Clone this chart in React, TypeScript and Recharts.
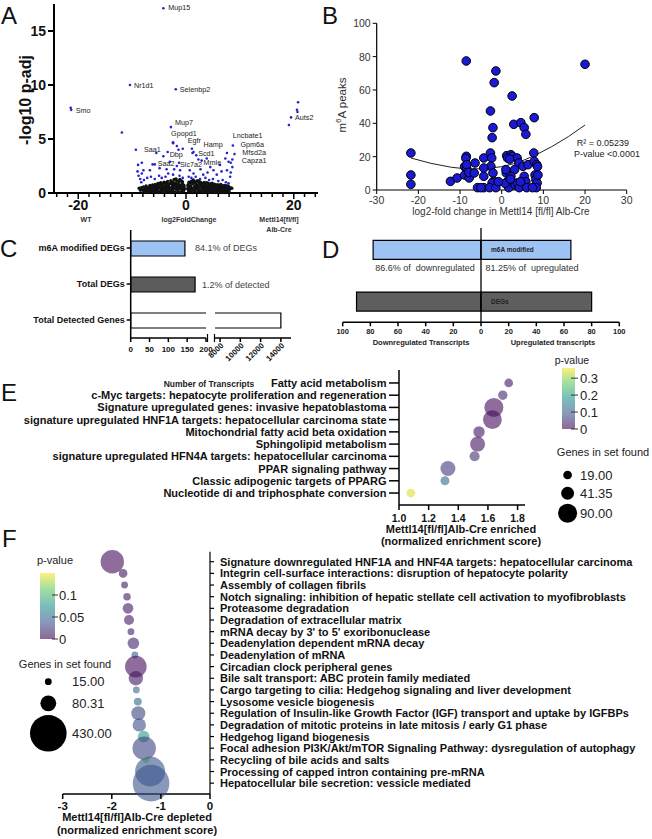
import React from 'react';
import {
  ScatterChart,
  Scatter,
  XAxis,
  YAxis,
  ZAxis,
  BarChart,
  Bar,
  Cell,
  LabelList,
  ReferenceLine,
} from 'recharts';

const FONT = '"Liberation Sans", Arial, Helvetica, sans-serif';

// ---------- A: volcano ----------
const volcanoNS: number[][] = [
  [-8.7, 0.44], [8.5, 0.44],
  [-8.1, 0.3], [-7.9, 0.55], [-7.7, 0.15], [-7.6, 0.4], [-7.4, 0.65], [-7.3, 0.05], [-7.2, 0.25], [-7.0, 0.5],
  [-6.9, 0.1], [-6.8, 0.42], [-6.7, 0.7], [-6.6, 0.3], [-6.4, 0.18], [-6.3, 0.55], [-6.2, 0.75], [-6.1, 0.05],
  [-6.0, 0.38], [-5.9, 0.6], [-5.8, 0.22], [-5.7, 0.8], [-5.6, 0.45], [-5.5, 0.1], [-5.4, 0.62], [-5.3, 0.32],
  [-5.2, 0.88], [-5.1, 0.05], [-5.0, 0.5], [-4.9, 0.72], [-4.8, 0.2], [-4.7, 0.95], [-4.6, 0.4], [-4.5, 0.6],
  [-4.4, 0.12], [-4.3, 0.82], [-4.2, 0.3], [-4.1, 1.0], [-4.0, 0.5], [-3.9, 0.05], [-3.8, 0.7], [-3.7, 0.25],
  [-3.6, 0.92], [-3.5, 0.45], [-3.4, 1.08], [-3.3, 0.15], [-3.2, 0.6], [-3.1, 0.35], [-3.0, 0.85], [-2.9, 0.05],
  [-2.8, 1.15], [-2.7, 0.5], [-2.6, 0.25], [-2.5, 0.75], [-2.4, 1.0], [-2.3, 0.4], [-2.2, 1.25], [-2.1, 0.6],
  [-2.0, 0.1], [-1.9, 0.9], [-1.8, 0.35], [-1.7, 1.12], [-1.6, 0.55], [-1.5, 0.2], [-1.4, 0.8], [-1.3, 1.02],
  [-1.2, 0.42], [-1.1, 0.05], [-1.0, 0.7], [-0.9, 1.15], [-0.8, 0.3], [-0.7, 0.88], [-0.6, 0.52], [-0.5, 0.15],
  [-0.4, 0.72], [-0.3, 0.38],
  [0.3, 0.4], [0.4, 0.78], [0.5, 0.12], [0.6, 0.55], [0.7, 0.95], [0.8, 0.28], [0.9, 0.68], [1.0, 1.1],
  [1.1, 0.45], [1.2, 0.05], [1.3, 0.85], [1.4, 0.32], [1.5, 1.05], [1.6, 0.6], [1.7, 0.18], [1.8, 0.9],
  [1.9, 0.42], [2.0, 1.12], [2.1, 0.7], [2.2, 0.08], [2.3, 0.5], [2.4, 0.95], [2.5, 0.28], [2.6, 0.78],
  [2.7, 1.0], [2.8, 0.15], [2.9, 0.6], [3.0, 0.38], [3.1, 0.88], [3.2, 0.05], [3.3, 0.66], [3.4, 0.98],
  [3.5, 0.25], [3.6, 0.5], [3.7, 0.82], [3.8, 0.12], [3.9, 0.6], [4.0, 0.35], [4.1, 0.9], [4.2, 0.05],
  [4.3, 0.7], [4.4, 0.45], [4.5, 0.2], [4.6, 0.85], [4.7, 0.55], [4.8, 0.1], [4.9, 0.75], [5.0, 0.35],
  [5.1, 0.6], [5.2, 0.2], [5.3, 0.82], [5.4, 0.45], [5.5, 0.05], [5.6, 0.68], [5.7, 0.3], [5.8, 0.78],
  [5.9, 0.15], [6.0, 0.5], [6.1, 0.72], [6.2, 0.25], [6.3, 0.05], [6.4, 0.6], [6.5, 0.38], [6.6, 0.7],
  [6.7, 0.12], [6.8, 0.48], [6.9, 0.65], [7.0, 0.25], [7.1, 0.05], [7.2, 0.55], [7.3, 0.35], [7.4, 0.68],
  [7.5, 0.15], [7.6, 0.45], [7.7, 0.62], [7.8, 0.28], [7.9, 0.5], [8.0, 0.1], [8.1, 0.35],
  [-3.55, 0.15], [-2.45, 0.12], [-1.55, 0.4], [-0.45, 0.25], [0.45, 0.3], [1.55, 0.3], [2.45, 0.18],
  [3.55, 0.4], [-4.45, 0.3], [4.45, 0.28], [-5.45, 0.35], [5.45, 0.25], [-6.5, 0.5], [6.5, 0.2],
  [-7.5, 0.3], [7.5, 0.4],
  [-7.85, 0.2], [-7.45, 0.45], [-7.05, 0.3], [-6.65, 0.55], [-6.25, 0.35], [-5.85, 0.7], [-5.65, 0.1],
  [-5.25, 0.5], [-4.85, 0.85], [-4.65, 0.2], [-4.25, 0.55], [-3.85, 0.95], [-3.65, 0.6], [-3.25, 0.8],
  [-3.05, 0.15], [-2.75, 0.9], [-2.55, 0.5], [-2.15, 0.85], [-1.85, 1.3], [-1.65, 0.75], [-1.35, 0.6],
  [-1.15, 1.25], [-0.95, 0.45], [-0.75, 0.15], [-0.65, 1.05], [-0.35, 0.55], [0.35, 0.65], [0.55, 1.0],
  [0.75, 0.45], [0.95, 0.2], [1.15, 0.9], [1.35, 1.2], [1.65, 0.45], [1.85, 0.7], [2.15, 0.35], [2.35, 1.15],
  [2.65, 0.55], [2.85, 0.85], [3.15, 0.5], [3.35, 0.25], [3.65, 0.7], [3.85, 0.95], [4.15, 0.15], [4.35, 0.5],
  [4.65, 0.35], [4.85, 0.9], [5.15, 0.45], [5.35, 0.1], [5.65, 0.55], [5.85, 0.3], [6.15, 0.4], [6.45, 0.8],
  [6.85, 0.3], [7.15, 0.7], [7.45, 0.2], [7.85, 0.65], [8.2, 0.5], [-8.3, 0.5], [-8.45, 0.25],
];

const volcanoDEG: number[][] = [
  [20.8, 8.4], [20.6, 7.7], [20.7, 7.5], [19.1, 6.3], [-21.3, 7.7], [-11.9, 5.6],
  [-8.2, 2.8], [-6.2, 2.65], [-5.5, 3.7], [-4.2, 3.4], [-2.4, 4.6], [-1.7, 4.35], [-1.4, 4.0],
  [-3.0, 2.9], [-1.7, 2.5], [-1.1, 2.1], [-6.7, 2.1], [-7.9, 2.1], [-8.2, 1.8], [-3.3, 1.8], [-2.4, 1.7],
  [1.1, 4.1], [1.2, 3.7], [2.3, 3.1], [3.85, 3.2], [4.5, 2.4], [5.1, 2.1], [6.3, 2.6], [7.3, 3.2],
  [7.6, 3.7], [7.9, 2.9], [7.6, 2.1], [8.2, 1.5], [0.7, 2.1], [1.4, 1.8], [3.2, 1.7], [5.7, 1.7],
  [-8.9, 2.6], [-9.0, 2.0], [-8.8, 1.6], [-8.5, 1.3], [-8.3, 1.0], [-7.8, 1.2], [-7.2, 1.4], [-6.5, 1.5],
  [-5.8, 1.3], [-5.0, 1.6], [-4.5, 1.4], [-3.8, 1.5], [-1.2, 1.6], [-0.6, 1.4], [0.5, 1.5], [1.0, 1.4],
  [1.8, 1.5], [2.6, 1.3], [3.6, 1.4], [4.3, 1.2], [5.0, 1.3], [6.0, 1.1], [6.8, 1.2], [7.4, 1.0],
  [7.9, 0.9], [8.3, 1.9], [8.6, 2.4], [-4.9, 2.3], [-3.6, 2.2], [-2.2, 2.2], [2.7, 2.2], [4.0, 1.9], [6.6, 2.0],
];

const volcanoGenes = ['Mup15', 'Nr1d1', 'Selenbp2', 'Smo', 'Mup7', 'Gpopd1', 'Egfr', 'Hamp', 'Saa1', 'Lncbate1',
  'Gpm6a', 'Mfsd2a', 'Capza1', 'Dbp', 'Scd1', 'Saa2', 'Slc7a2', 'Mmle', 'Auts2'];
const volcanoGeneFC = [-4.2, -10.4, -1.9, -21.4, -2.8, -2.4, -0.6, 1.4, -9.3, 8.7, 9.0, 8.6, 8.3, -3.4, 1.9, -5.8, -1.3, 2.9, 19.5];
const volcanoGeneP = [17.1, 10.0, 9.6, 7.9, 6.1, 4.7, 4.1, 3.8, 4.0, 4.4, 3.6, 3.1, 2.8, 3.8, 3.5, 2.65, 2.8, 3.0, 7.0];
// where each gene name sits relative to its point (px)
const geneNudge: Record<string, [number, number]> = {
  Mup15: [5, -1], Nr1d1: [4, 0], Selenbp2: [4, 0], Smo: [5, 3], Mup7: [4, -5], Gpopd1: [-2, -9],
  Egfr: [5, -8], Hamp: [10, -7], Saa1: [8, 0], Lncbate1: [0, -9.5], Gpm6a: [6, -9.9], Mfsd2a: [10, -7.1],
  Capza1: [11, -2.2], Dbp: [2, 3], Scd1: [2, -2], Saa2: [3, -1], Slc7a2: [1, 2], Mmle: [2, 2], Auts2: [4, 0],
};
const volcanoXTicks = [-24, -22, -20, -18, -16, -14, -12, -10, -8, -6, -4, -2, 0, 2, 4, 6, 8, 10, 12, 14, 16, 18, 20, 22, 24];
const volcanoXLabels = [-20, 0, 20];
const volcanoYTicks = [0, 5, 10, 15];

// ---------- B: m6A peaks vs fold change ----------
const peaksPts: number[][] = [
  [-21.8, 22.2], [-21.8, 9], [-21.8, 3.4], [-8.5, 77.4], [-1.4, 71.4], [-1.8, 64.4], [2.5, 56.4], [20, 75.4],
  [-2.7, 47.4], [-2.1, 37.4], [-2.3, 31.4], [2.9, 39.4], [4.6, 40.4], [5.4, 37.4], [5.8, 33.4], [7.8, 43.4],
  [-8.5, 20.2], [-8.6, 19], [-6.4, 16.2], [-4.3, 19.2], [-2.7, 22.2], [-2.4, 19.2], [-2.6, 14.2], [1.2, 20.6],
  [2.2, 21.2], [2.6, 20.2], [1.4, 19.2], [3.7, 19.2], [4.1, 16.2], [3.1, 12.2], [5.1, 14.2], [6.3, 15.2],
  [7.7, 22.2], [7.8, 17.2], [8.4, 15.2], [8.6, 14], [-12.3, 5.2], [-10.7, 7.2], [-8.9, 14], [-8.4, 13],
  [-8.9, 9], [-7.8, 7.2], [-8.4, 15.2], [-7.9, 10.5], [-6.6, 10.2], [-4.3, 8.2], [-4.3, 13.2], [-2.1, 10.2],
  [-2, 5.2], [-1.4, 4.8], [-2.3, 4.2], [-5.8, 1.4], [-4.3, 1.4], [-2.9, 1.4], [-1.4, 1.4], [1.1, 10.2],
  [1, 12.2], [2.2, 8.2], [1.3, 4.8], [2.6, 4.8], [1.7, 1.4], [3.2, 3], [3.8, 4.2], [4.2, 1.4], [5.4, 8.2],
  [5.8, 5], [6, 1.4], [8, 9], [8.2, 6.2], [8.5, 4.2], [8.7, 9], [8.3, 1.4], [7.4, 1.4], [0.8, 4], [2.1, 6.5],
  [-0.8, 5], [4.5, 5], [1.9, 18.5], [-5, 1.4],
];
const peaksFit: number[][] = [
  [-21.8, 19.2], [-17, 16], [-12, 13.6], [-8, 12.6], [-4, 12.8], [0, 14], [4, 16.5], [8, 20.8], [12, 26], [16, 32], [20, 39],
];
const peaksXTicks = [-30, -20, -10, 0, 10, 20, 30];
const peaksYTicks = [0, 20, 40, 60, 80, 100];

// ---------- C: transcript counts (broken axis) ----------
const countCats = ['m6A modified DEGs', 'Total DEGs', 'Total Detected Genes'];
const countVals = [144, 171, 14000];
const countNotes = ['84.1% of DEGs', '1.2% of detected'];
const countLowTicks = [0, 50, 100, 150, 200];
const countHighTicks = [8000, 10000, 12000, 14000];
const countFills = ['#9dc3f5', '#5c5c5c', '#ffffff'];

// ---------- D: up / down regulated ----------
const dirCats = ['m6A modified', 'DEGs'];
const dirDown = [78, 90];
const dirUp = [65, 80];
const dirNotes = ['86.6% of  downregulated', '81.25% of  upregulated'];
const dirTicks = [-100, -80, -60, -40, -20, 0, 20, 40, 60, 80, 100];
const dirFills = ['#9dc3f5', '#5e5e5e'];

// ---------- E: enriched ----------
const enrTerms = [
  'Fatty acid metabolism',
  'c-Myc targets: hepatocyte proliferation and regeneration',
  'Signature upregulated genes: invasive hepatoblastoma',
  'signature upregulated HNF1A targets: hepatocellular carcinoma state',
  'Mitochondrial fatty acid beta oxidation',
  'Sphingolipid metabolism',
  'signature upregulated HFN4A targets: hepatocellular carcinoma',
  'PPAR signaling pathway',
  'Classic adipogenic targets of PPARG',
  'Nucleotide di and triphosphate conversion',
];
const enrNES = [1.74, 1.7, 1.64, 1.63, 1.54, 1.53, 1.51, 1.33, 1.31, 1.08];
const enrGenes = [19, 22, 90, 88, 32, 56, 25, 56, 20, 19];
const enrP = [0.02, 0.04, 0.01, 0.01, 0.02, 0.02, 0.05, 0.06, 0.12, 0.34];
const enrXTicks = [1.0, 1.2, 1.4, 1.6, 1.8];
const enrPTicks = [0.3, 0.2, 0.1, 0];
const enrSizeLegend = [19, 41.35, 90];

// ---------- F: depleted ----------
const depTerms = [
  'Signature downregulated HNF1A and HNF4A targets: hepatocellular carcinoma',
  'Integrin cell-surface interactions: disruption of hepatocyte polarity',
  'Assembly of collagen fibrils',
  'Notch signaling: inhibition of hepatic stellate cell activation to myofibroblasts',
  'Proteasome degradation',
  'Degradation of extracellular matrix',
  "mRNA decay by 3' to 5' exoribonuclease",
  'Deadenylation dependent mRNA decay',
  'Deadenylation of mRNA',
  'Circadian clock peripheral genes',
  'Bile salt transport: ABC protein family mediated',
  'Cargo targeting to cilia: Hedgehog signaling and liver development',
  'Lysosome vesicle biogenesis',
  'Regulation of Insulin-like Growth Factor (IGF) transport and uptake by IGFBPs',
  'Degradation of mitotic proteins in late mitosis / early G1 phase',
  'Hedgehog ligand biogenesis',
  'Focal adhesion PI3K/Akt/mTOR Signaling Pathway: dysregulation of autophagy',
  'Recycling of bile acids and salts',
  'Processing of capped intron containing pre-mRNA',
  'Hepatocellular bile secretion: vessicle mediated',
];
const depNES = [-1.99, -1.77, -1.74, -1.69, -1.67, -1.65, -1.61, -1.56, -1.53, -1.51, -1.51, -1.5, -1.47, -1.46, -1.44, -1.35, -1.34, -1.31, -1.22, -1.2];
const depGenes = [176, 24, 15, 18, 36, 32, 15, 43, 15, 150, 66, 15, 20, 63, 58, 43, 176, 15, 289, 430];
const depP = [0.005, 0.008, 0.01, 0.01, 0.01, 0.01, 0.012, 0.015, 0.045, 0.005, 0.01, 0.05, 0.05, 0.03, 0.035, 0.08, 0.03, 0.12, 0.04, 0.038];
const depXTicks = [-3, -2, -1, 0];
const depPTicks = [0.1, 0.05, 0];
const depSizeLegend = [15, 80.31, 430];

// ---------- helpers ----------
const viridisStops = ['#440154', '#3b528b', '#21918c', '#5ec962', '#fde725'];
const BUBBLE_OPACITY = 0.6;
const E_PMAX = 0.36;
const F_PMAX = 0.15;
const E_RMAX = 9.5;
const F_RMAX = 18.3;

function hexRgb(h: string) {
  return [parseInt(h.slice(1, 3), 16), parseInt(h.slice(3, 5), 16), parseInt(h.slice(5, 7), 16)];
}
function viridis(t: number) {
  const c = Math.min(1, Math.max(0, t)) * (viridisStops.length - 1);
  const i = Math.min(viridisStops.length - 2, Math.floor(c));
  const f = c - i;
  const a = hexRgb(viridisStops[i]);
  const b = hexRgb(viridisStops[i + 1]);
  return `rgb(${a.map((v, k) => Math.round(v + (b[k] - v) * f)).join(',')})`;
}

const volcanoData = volcanoNS.map(([x, y]) => ({ x, y }));
const volcanoDegData = volcanoDEG.map(([x, y]) => ({ x, y }));
const volcanoLabelData = volcanoGenes.map((gene, i) => ({ gene, x: volcanoGeneFC[i], y: volcanoGeneP[i] }));
const peaksData = peaksPts.map(([x, y]) => ({ x, y }));
const fitData = peaksFit.map(([x, y]) => ({ x, y }));
const countData = countCats.map((name, i) => ({ name, count: countVals[i] }));
const dirData = dirCats.map((name, i) => ({ name, down: -dirDown[i], up: dirUp[i] }));
const enrData = enrTerms.map((term, i) => ({ rank: i, nes: enrNES[i], genes: enrGenes[i], p: enrP[i] }));
const depData = depTerms.map((term, i) => ({ rank: i, nes: depNES[i], genes: depGenes[i], p: depP[i] }));

const txt = (size: number, bold = false, fill = '#111') => ({
  fontSize: size,
  fontWeight: bold ? 700 : 400,
  fill,
  fontFamily: FONT,
});

// ---------- panels ----------
function VolcanoPanel() {
  const xTick = ({ x = 0, y = 0, payload }: any) => {
    const major = volcanoXLabels.includes(payload.value);
    return (
      <g>
        <line x1={x} x2={x} y1={y} y2={y + (major ? 6 : 4)} stroke="#000" strokeWidth={1.5} />
        {major && (
          <text x={x} y={y + 17} textAnchor="middle" {...txt(14, true)}>{payload.value}</text>
        )}
      </g>
    );
  };
  const yTick = ({ x = 0, y = 0, payload }: any) => (
    <g>
      <line x1={x - 6} x2={x} y1={y} y2={y} stroke="#000" strokeWidth={2} />
      <text x={x - 8} y={y + 5} textAnchor="end" {...txt(14, true)}>{payload.value}</text>
    </g>
  );
  return (
    <ScatterChart width={330} height={215} margin={{ top: 4, right: 12, bottom: 0, left: 0 }}>
      <XAxis type="number" dataKey="x" domain={[-24.5, 24.5]} ticks={volcanoXTicks} interval={0}
        height={22} tickSize={0} tickMargin={0} tickLine={false} axisLine={{ stroke: '#000', strokeWidth: 2 }} tick={xTick} />
      <YAxis type="number" dataKey="y" domain={[0, 17.5]} ticks={volcanoYTicks} interval={0}
        width={54} tickSize={0} tickMargin={0} tickLine={false} axisLine={{ stroke: '#000', strokeWidth: 2 }} tick={yTick} />
      <Scatter data={volcanoData} isAnimationActive={false}
        shape={(p: any) => <circle cx={p.cx} cy={p.cy} r={1.7} fill="#111" />} />
      <Scatter data={volcanoDegData} isAnimationActive={false}
        shape={(p: any) => <circle cx={p.cx} cy={p.cy} r={1.3} fill="#2323d0" />} />
      <Scatter data={volcanoLabelData} isAnimationActive={false}
        shape={(p: any) => {
          const [dx, dy] = geneNudge[p.payload.gene] || [4, 0];
          return (
            <g>
              <circle cx={p.cx} cy={p.cy} r={1.3} fill="#2323d0" />
              <text x={p.cx + dx} y={p.cy + dy} dominantBaseline="central" {...txt(7.2, false, '#222')}>{p.payload.gene}</text>
            </g>
          );
        }} />
    </ScatterChart>
  );
}

function PeaksPanel() {
  const xTick = ({ x = 0, y = 0, payload }: any) => (
    <g>
      <line x1={x} x2={x} y1={y} y2={y + 4} stroke="#000" strokeWidth={1} />
      <text x={x} y={y + 14} textAnchor="middle" {...txt(10.5, false, '#333')}>{payload.value}</text>
    </g>
  );
  const yTick = ({ x = 0, y = 0, payload }: any) => (
    <g>
      <line x1={x - 4} x2={x} y1={y} y2={y} stroke="#000" strokeWidth={1} />
      <text x={x - 6} y={y + 4} textAnchor="end" {...txt(10.5, false, '#333')}>{payload.value}</text>
    </g>
  );
  return (
    <ScatterChart width={322} height={215} margin={{ top: 23.3, right: 25.3, bottom: 0, left: 0 }}>
      <XAxis type="number" dataKey="x" domain={[-30, 30]} ticks={peaksXTicks} interval={0} height={25}
        tickSize={0} tickMargin={0} tickLine={false} axisLine={{ stroke: '#000', strokeWidth: 1.2 }} tick={xTick} />
      <YAxis type="number" dataKey="y" domain={[0, 100]} ticks={peaksYTicks} interval={0} width={46.7}
        tickSize={0} tickMargin={0} tickLine={false} axisLine={{ stroke: '#000', strokeWidth: 1.2 }} tick={yTick} />
      <Scatter data={fitData} isAnimationActive={false} line={{ stroke: '#222', strokeWidth: 1 }} lineType="joint"
        shape={() => <g />} />
      <Scatter data={peaksData} isAnimationActive={false}
        shape={(p: any) => <circle cx={p.cx} cy={p.cy} r={4.3} fill="#1a1ad4" stroke="#000" strokeWidth={1} />} />
    </ScatterChart>
  );
}

const openLeftBar = (p: any) => {
  const { x, y, width, height, fill } = p;
  return (
    <g>
      <rect x={x} y={y} width={width} height={height} fill={fill} />
      <path d={`M${x},${y}H${x + width}V${y + height}H${x}`} fill="none" stroke="#000" strokeWidth={1.2} />
    </g>
  );
};

function CountsPanel() {
  const catTick = ({ x = 0, y = 0, payload }: any) => (
    <g>
      <line x1={x - 4} x2={x} y1={y} y2={y} stroke="#000" strokeWidth={1.5} />
      <text x={x - 6} y={y + 3.2} textAnchor="end" {...txt(9, true)}>{payload.value}</text>
    </g>
  );
  const lowTick = ({ x = 0, y = 0, payload }: any) => (
    <g>
      <line x1={x} x2={x} y1={y} y2={y + 4} stroke="#000" strokeWidth={1.5} />
      <text x={x} y={y + 14} textAnchor="middle" {...txt(8, true)}>{payload.value}</text>
    </g>
  );
  const highTick = ({ x = 0, y = 0, payload }: any) => (
    <g>
      <line x1={x} x2={x} y1={y} y2={y + 4} stroke="#000" strokeWidth={1.5} />
      <text x={x + 4} y={y + 8} textAnchor="end" transform={`rotate(-45 ${x + 4} ${y + 8})`} {...txt(8, true)}>
        {payload.value}
      </text>
    </g>
  );
  return (
    <>
      <div style={{ position: 'absolute', left: 0, top: 215 }}>
        <BarChart layout="vertical" width={215} height={153} data={countData} margin={{ top: 15, right: 9, bottom: 0, left: 0 }}>
          <XAxis type="number" domain={[0, 200]} ticks={countLowTicks} interval={0} allowDataOverflow height={30}
            tickSize={0} tickMargin={0} tickLine={false} axisLine={{ stroke: '#000', strokeWidth: 1.5 }} tick={lowTick} />
          <YAxis type="category" dataKey="name" width={130.7} interval={0}
            tickSize={0} tickMargin={0} tickLine={false} axisLine={{ stroke: '#000', strokeWidth: 1.5 }} tick={catTick} />
          <Bar dataKey="count" barSize={15} stroke="#000" strokeWidth={1.2} isAnimationActive={false}>
            {countData.map((d, i) => <Cell key={d.name} fill={countFills[i]} />)}
          </Bar>
        </BarChart>
      </div>
      <div style={{ position: 'absolute', left: 200, top: 215 }}>
        <BarChart layout="vertical" width={100} height={153} data={countData} margin={{ top: 15, right: 9, bottom: 0, left: 15 }}>
          <XAxis type="number" domain={[7500, 15000]} ticks={countHighTicks} interval={0} allowDataOverflow height={30}
            tickSize={0} tickMargin={0} tickLine={false} axisLine={{ stroke: '#000', strokeWidth: 1.5 }} tick={highTick} />
          <YAxis type="category" dataKey="name" hide />
          <Bar dataKey="count" barSize={15} isAnimationActive={false} shape={openLeftBar}>
            {countData.map((d, i) => <Cell key={d.name} fill={countFills[i]} />)}
          </Bar>
        </BarChart>
      </div>
    </>
  );
}

function DirectionPanel() {
  const xTick = ({ x = 0, y = 0, payload }: any) => (
    <g>
      <line x1={x} x2={x} y1={y} y2={y + 4} stroke="#000" strokeWidth={1.5} />
      <text x={x} y={y + 12} textAnchor="middle" {...txt(7.5, true, '#222')}>{Math.abs(payload.value)}</text>
    </g>
  );
  return (
    <BarChart layout="vertical" width={322} height={138} data={dirData} stackOffset="sign"
      margin={{ top: 13, right: 32.7, bottom: 0, left: 12.7 }}>
      <XAxis type="number" domain={[-100, 100]} ticks={dirTicks} interval={0} height={30.7}
        tickSize={0} tickMargin={0} tickLine={false} axisLine={{ stroke: '#000', strokeWidth: 1.5 }} tick={xTick} />
      <YAxis type="category" dataKey="name" hide padding={{ top: -3.7, bottom: -5.6 }} />
      <Bar dataKey="down" stackId="a" barSize={19} stroke="#000" strokeWidth={1.2} isAnimationActive={false}>
        {dirData.map((d, i) => <Cell key={d.name} fill={dirFills[i]} />)}
      </Bar>
      <Bar dataKey="up" stackId="a" barSize={19} stroke="#000" strokeWidth={1.2} isAnimationActive={false}>
        {dirData.map((d, i) => <Cell key={d.name} fill={dirFills[i]} />)}
        <LabelList dataKey="name" content={(p: any) => (
          <text x={Number(p.x) + 10} y={Number(p.y) + Number(p.height) / 2} dominantBaseline="central" {...txt(6.5, true, '#222')}>
            {p.value}
          </text>
        )} />
      </Bar>
      <ReferenceLine x={0} stroke="#000" strokeWidth={1.3} />
    </BarChart>
  );
}

function EnrichedPanel() {
  const yTick = ({ x = 0, y = 0, payload }: any) => (
    <g>
      <line x1={x - 10} x2={x} y1={y} y2={y} stroke="#000" strokeWidth={1.5} />
      <text x={x - 12.5} y={y + 4} textAnchor="end" {...txt(11, true)}>{enrTerms[payload.value]}</text>
    </g>
  );
  const xTick = ({ x = 0, y = 0, payload }: any) => (
    <g>
      <line x1={x} x2={x} y1={y} y2={y + 5} stroke="#000" strokeWidth={1.5} />
      <text x={x} y={y + 17} textAnchor="middle" {...txt(10.5, true)}>{payload.value.toFixed(1)}</text>
    </g>
  );
  return (
    <ScatterChart width={530} height={165} margin={{ top: 10, right: 5, bottom: 0, left: 0 }}>
      <XAxis type="number" dataKey="nes" domain={[1, 1.85]} ticks={enrXTicks} interval={0} height={20}
        tickSize={0} tickMargin={0} tickLine={false} axisLine={{ stroke: '#000', strokeWidth: 1.5 }} tick={xTick} />
      <YAxis type="number" dataKey="rank" domain={[-1.06, 9.98]} reversed ticks={enrData.map((d) => d.rank)} interval={0}
        width={399} tickSize={0} tickMargin={0} tickLine={false} axisLine={{ stroke: '#000', strokeWidth: 1.5 }} tick={yTick} />
      <ZAxis type="number" dataKey="genes" domain={[0, 90]} range={[0, Math.PI * E_RMAX * E_RMAX]} />
      <Scatter data={enrData} isAnimationActive={false}
        shape={(p: any) => {
          const r = p.size ? Math.sqrt(p.size / Math.PI) : p.width / 2;
          return <circle cx={p.cx} cy={p.cy} r={r} fill={viridis(p.payload.p / E_PMAX)} fillOpacity={BUBBLE_OPACITY} />;
        }} />
    </ScatterChart>
  );
}

function DepletedPanel() {
  const yTick = ({ x = 0, y = 0, payload }: any) => (
    <g>
      <line x1={x} x2={x + 4} y1={y} y2={y} stroke="#000" strokeWidth={1.2} />
      <text x={x + 10} y={y + 4} textAnchor="start" {...txt(11, true)}>{depTerms[payload.value]}</text>
    </g>
  );
  const xTick = ({ x = 0, y = 0, payload }: any) => (
    <g>
      <line x1={x} x2={x} y1={y} y2={y + 5} stroke="#000" strokeWidth={1.5} />
      <text x={x} y={y + 16} textAnchor="middle" {...txt(11.5, true)}>{payload.value}</text>
    </g>
  );
  return (
    <ScatterChart width={652} height={274} margin={{ top: 11.7, right: 0, bottom: 0, left: 62.7 }}>
      <XAxis type="number" dataKey="nes" domain={[-3, 0]} ticks={depXTicks} interval={0} height={20}
        tickSize={0} tickMargin={0} tickLine={false} axisLine={{ stroke: '#000', strokeWidth: 1.5 }} tick={xTick} />
      <YAxis type="number" dataKey="rank" orientation="right" domain={[-0.86, 19.93]} reversed
        ticks={depData.map((d) => d.rank)} interval={0} width={442}
        tickSize={0} tickMargin={0} tickLine={false} axisLine={{ stroke: '#000', strokeWidth: 1.2 }} tick={yTick} />
      <ZAxis type="number" dataKey="genes" domain={[0, 430]} range={[0, Math.PI * F_RMAX * F_RMAX]} />
      <Scatter data={depData} isAnimationActive={false}
        shape={(p: any) => {
          const r = p.size ? Math.sqrt(p.size / Math.PI) : p.width / 2;
          return <circle cx={p.cx} cy={p.cy} r={r} fill={viridis(p.payload.p / F_PMAX)} fillOpacity={BUBBLE_OPACITY} />;
        }} />
    </ScatterChart>
  );
}

function Overlay() {
  const eY = (v: number) => 429 - (v / E_PMAX) * 61;
  const fY = (v: number) => 639 - (v / F_PMAX) * 66;
  const rE = (v: number) => E_RMAX * Math.sqrt(v / 90);
  const rF = (v: number) => F_RMAX * Math.sqrt(v / 430);
  const eLegY = [475, 493.3, 513.3];
  const fLegY = [681.7, 703.3, 733.3];
  const mid = { dominantBaseline: 'central' as const };
  return (
    <svg width={652} height={839} style={{ position: 'absolute', left: 0, top: 0, pointerEvents: 'none' }}>
      <defs>
        <linearGradient id="pv" x1="0" y1="1" x2="0" y2="0">
          {viridisStops.map((c, i) => (
            <stop key={c} offset={i / (viridisStops.length - 1)} stopColor={c} stopOpacity={BUBBLE_OPACITY} />
          ))}
        </linearGradient>
      </defs>

      {/* panel letters */}
      <text x={1} y={24} {...txt(24, false, '#111')}>A</text>
      <text x={322} y={24} {...txt(24, false, '#111')}>B</text>
      <text x={0} y={257} {...txt(24, false, '#111')}>C</text>
      <text x={322} y={258} {...txt(24, false, '#111')}>D</text>
      <text x={1} y={401} {...txt(24, false, '#111')}>E</text>
      <text x={2} y={547} {...txt(24, false, '#111')}>F</text>

      {/* A titles */}
      <text x={25} y={100} textAnchor="middle" transform="rotate(-90 25 100)" {...mid} {...txt(16, true)}>-log10 p-adj</text>
      <text x={86} y={219} textAnchor="middle" {...mid} {...txt(7, true, '#333')}>WT</text>
      <text x={189} y={219} textAnchor="middle" {...mid} {...txt(7, true, '#333')}>log2FoldChange</text>
      <text x={279} y={219} textAnchor="middle" {...mid} {...txt(7, true, '#333')}>Mettl14[fl/fl]</text>
      <text x={279} y={229} textAnchor="middle" {...mid} {...txt(7, true, '#333')}>Alb-Cre</text>

      {/* B titles */}
      <text x={342} y={105} textAnchor="middle" transform="rotate(-90 342 105)" {...mid} {...txt(11.5, false, '#333')}>
        m<tspan fontSize={8} dy={-4}>6</tspan><tspan dy={4}>A peaks</tspan>
      </text>
      <text x={501} y={211} textAnchor="middle" {...mid} {...txt(10, false, '#333')}>
        log2-fold change in Mettl14 [fl/fl] Alb-Cre
      </text>
      <text x={603} y={143} textAnchor="middle" {...mid} {...txt(9, false, '#222')}>R² = 0.05239</text>
      <text x={607} y={154} textAnchor="middle" {...mid} {...txt(9, false, '#222')}>P-value &lt;0.0001</text>

      {/* C */}
      <text x={195} y={247.5} {...mid} {...txt(9, false, '#444')}>{countNotes[0]}</text>
      <text x={202} y={285} {...mid} {...txt(9, false, '#444')}>{countNotes[1]}</text>
      <text x={209} y={384} textAnchor="middle" {...mid} {...txt(8.5, true, '#222')}>Number of Transcripts</text>
      <line x1={207.5} x2={207.5} y1={334} y2={342} stroke="#000" strokeWidth={1.2} />
      <line x1={214.5} x2={214.5} y1={334} y2={342} stroke="#000" strokeWidth={1.2} />

      {/* D */}
      <text x={425} y={267.5} textAnchor="middle" {...mid} {...txt(9, false, '#333')} style={{ whiteSpace: 'pre' }}>{dirNotes[0]}</text>
      <text x={532} y={267.5} textAnchor="middle" {...mid} {...txt(9, false, '#333')} style={{ whiteSpace: 'pre' }}>{dirNotes[1]}</text>
      <text x={421} y={342.5} textAnchor="middle" {...mid} {...txt(7.5, true, '#222')}>Downregulated Transcripts</text>
      <text x={553} y={342.5} textAnchor="middle" {...mid} {...txt(7.5, true, '#222')}>Upregulated transcripts</text>

      {/* E legends */}
      <text x={572} y={360} textAnchor="middle" {...mid} {...txt(10.5, false, '#222')}>p-value</text>
      <rect x={562} y={368} width={13} height={61} fill="url(#pv)" />
      {enrPTicks.map((v) => (
        <g key={v}>
          <line x1={571} x2={578} y1={eY(v)} y2={eY(v)} stroke="#333" strokeWidth={1} />
          <text x={580} y={eY(v)} {...mid} {...txt(13, false, '#222')}>{v}</text>
        </g>
      ))}
      <text x={603} y={452} textAnchor="middle" {...mid} {...txt(11, false, '#222')}>Genes in set found</text>
      {enrSizeLegend.map((v, i) => (
        <g key={v}>
          <circle cx={567.6} cy={eLegY[i]} r={rE(v)} fill="#000" />
          <text x={580} y={eLegY[i]} {...mid} {...txt(13, false, '#222')}>{v.toFixed(2)}</text>
        </g>
      ))}
      <text x={461} y={528.5} textAnchor="middle" {...mid} {...txt(11, true)}>Mettl14[fl/fl]Alb-Cre enriched</text>
      <text x={461} y={540.5} textAnchor="middle" {...mid} {...txt(11, true)}>(normalized enrichment score)</text>

      {/* F legends */}
      <text x={55} y={560} textAnchor="middle" {...mid} {...txt(11, false, '#222')}>p-value</text>
      <rect x={40} y={573} width={15} height={66} fill="url(#pv)" />
      {depPTicks.map((v) => (
        <g key={v}>
          <line x1={52} x2={58} y1={fY(v)} y2={fY(v)} stroke="#333" strokeWidth={1} />
          <text x={59} y={fY(v)} {...mid} {...txt(13, false, '#222')}>{v}</text>
        </g>
      ))}
      <text x={65} y={663.5} textAnchor="middle" {...mid} {...txt(11, false, '#222')}>Genes in set found</text>
      {depSizeLegend.map((v, i) => (
        <g key={v}>
          <circle cx={48.3} cy={fLegY[i]} r={rF(v)} fill="#000" />
          <text x={72} y={fLegY[i]} {...mid} {...txt(13, false, '#222')}>{v.toFixed(2)}</text>
        </g>
      ))}
      <text x={137} y={817} textAnchor="middle" {...mid} {...txt(11, true)}>Mettl14[fl/fl]Alb-Cre depleted</text>
      <text x={137} y={830} textAnchor="middle" {...mid} {...txt(11, true)}>(normalized enrichment score)</text>
    </svg>
  );
}

export default function App() {
  return (
    <div style={{ position: 'absolute', left: 0, top: 0, width: 652, height: 839, background: '#fff', overflow: 'hidden', fontFamily: FONT }}>
      <div style={{ position: 'absolute', left: 0, top: 0 }}><VolcanoPanel /></div>
      <div style={{ position: 'absolute', left: 330, top: 0 }}><PeaksPanel /></div>
      <CountsPanel />
      <div style={{ position: 'absolute', left: 330, top: 215 }}><DirectionPanel /></div>
      <div style={{ position: 'absolute', left: 0, top: 360 }}><EnrichedPanel /></div>
      <div style={{ position: 'absolute', left: 0, top: 540 }}><DepletedPanel /></div>
      <Overlay />
    </div>
  );
}
